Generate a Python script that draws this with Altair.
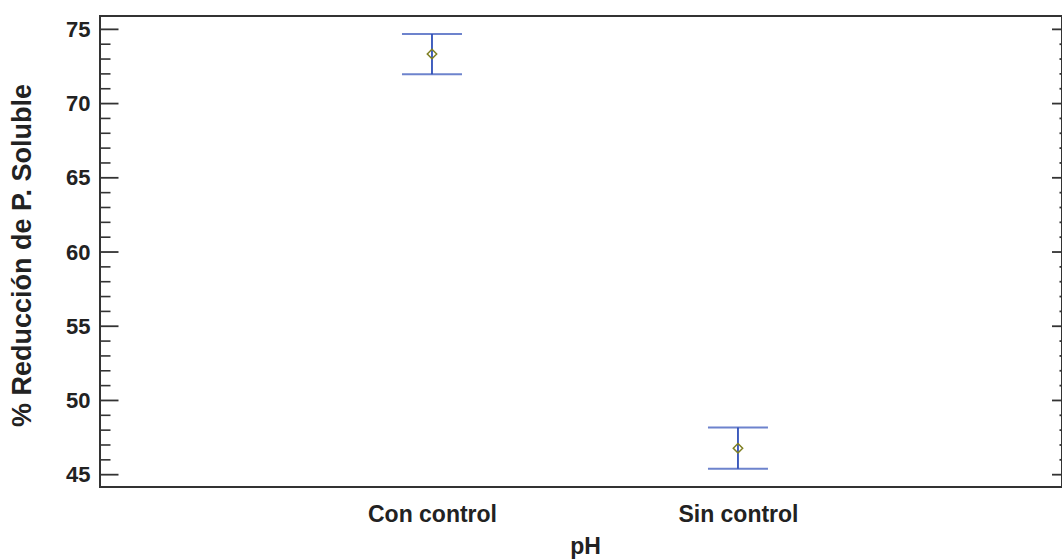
import altair as alt
import pandas as pd

# Group means with their interval limits (% reduction of soluble P)
groups = ["Con control", "Sin control"]
means = [73.34, 46.78]
lower = [71.97, 45.40]
upper = [74.68, 48.17]

# Y axis scale ticks
major_ticks = [45, 50, 55, 60, 65, 70, 75]
minor_ticks = [v for v in range(45, 76) if v % 5 != 0]

y_domain = [44.17, 75.9]
x_domain = [-0.085, 3.059]

positions = list(range(1, len(groups) + 1))
df = pd.DataFrame({"pos": positions, "pH": groups, "mean": means, "lo": lower, "hi": upper})
major_df = pd.DataFrame({"v": major_ticks})
minor_df = pd.DataFrame({"v": minor_ticks})

FONT = "Liberation Sans"
INK = "#333333"
BLUE = "#2f4fb8"
OLIVE = "#7f7f22"
W, H = 962, 471

label_expr = " : ".join(
    f"datum.value == {p} ? '{g}'" for p, g in zip(positions, groups)
) + " : ''"

x_scale = alt.Scale(domain=x_domain, nice=False, zero=False)
x_axis = alt.Axis(
    title="pH",
    values=positions,
    labelExpr=label_expr,
    domain=False,
    ticks=False,
    tickSize=0,
    grid=False,
    labelAngle=0,
    labelFont=FONT,
    labelFontSize=23,
    labelFontWeight="bold",
    labelColor="#222222",
    labelBaseline="alphabetic",
    labelPadding=34,
    titleFont=FONT,
    titleFontSize=23,
    titleFontWeight="bold",
    titleColor="#222222",
    titleBaseline="alphabetic",
    titleX=485,
    titleY=66,
    titleAnchor="start",
    titleAlign="center",
)

y_scale = alt.Scale(domain=y_domain, nice=False, zero=False)
y_axis = alt.Axis(
    title="% Reducción de P. Soluble",
    values=major_ticks,
    domain=False,
    ticks=False,
    tickSize=0,
    grid=False,
    labelFont=FONT,
    labelFontSize=22,
    labelFontWeight="bold",
    labelColor="#222222",
    labelPadding=10,
    titleFont=FONT,
    titleFontSize=27,
    titleFontWeight="bold",
    titleColor="#222222",
    titleAngle=270,
    titleAlign="center",
    titleBaseline="middle",
    titleX=-78,
    titleY=239,
)


def xq(field="pos"):
    return alt.X(f"{field}:Q", scale=x_scale, axis=x_axis)


def yq(field):
    return alt.Y(f"{field}:Q", scale=y_scale, axis=y_axis)


# Interval whiskers
whisker = alt.Chart(df).mark_rule(color=BLUE, strokeWidth=1.8).encode(
    x=xq(), y=yq("lo"), y2="hi:Q"
)

cap_lo = alt.Chart(df).mark_tick(
    color=BLUE, orient="horizontal", size=60, thickness=2
).encode(x=xq(), y=yq("lo"))

cap_hi = alt.Chart(df).mark_tick(
    color=BLUE, orient="horizontal", size=60, thickness=2
).encode(x=xq(), y=yq("hi"))

center = alt.Chart(df).mark_point(
    shape="diamond", filled=False, color=OLIVE, size=88, strokeWidth=1.5, opacity=1
).encode(x=xq(), y=yq("mean"))


def tick_rules(frame, x0, x1, width):
    return alt.Chart(frame).mark_rule(color=INK, strokeWidth=width).encode(
        y=yq("v"),
        x=alt.value(x0),
        x2=alt.value(x1),
    )


ticks = [
    tick_rules(major_df, 0, 18.5, 1.8),
    tick_rules(minor_df, 0, 10.5, 1.6),
    tick_rules(major_df, W - 10, W, 1.8),
    tick_rules(minor_df, W - 2.5, W, 1.8),
]

chart = (
    alt.layer(whisker, cap_lo, cap_hi, center, *ticks)
    .properties(
        width=W,
        height=H,
        autosize=alt.AutoSizeParams(type="none"),
        padding={"left": 100, "top": 16, "right": 0, "bottom": 72},
        background="white",
    )
    .configure_view(stroke=INK, strokeWidth=2)
)

chart.save("out.html", embed_options={"renderer": "svg", "actions": False})
